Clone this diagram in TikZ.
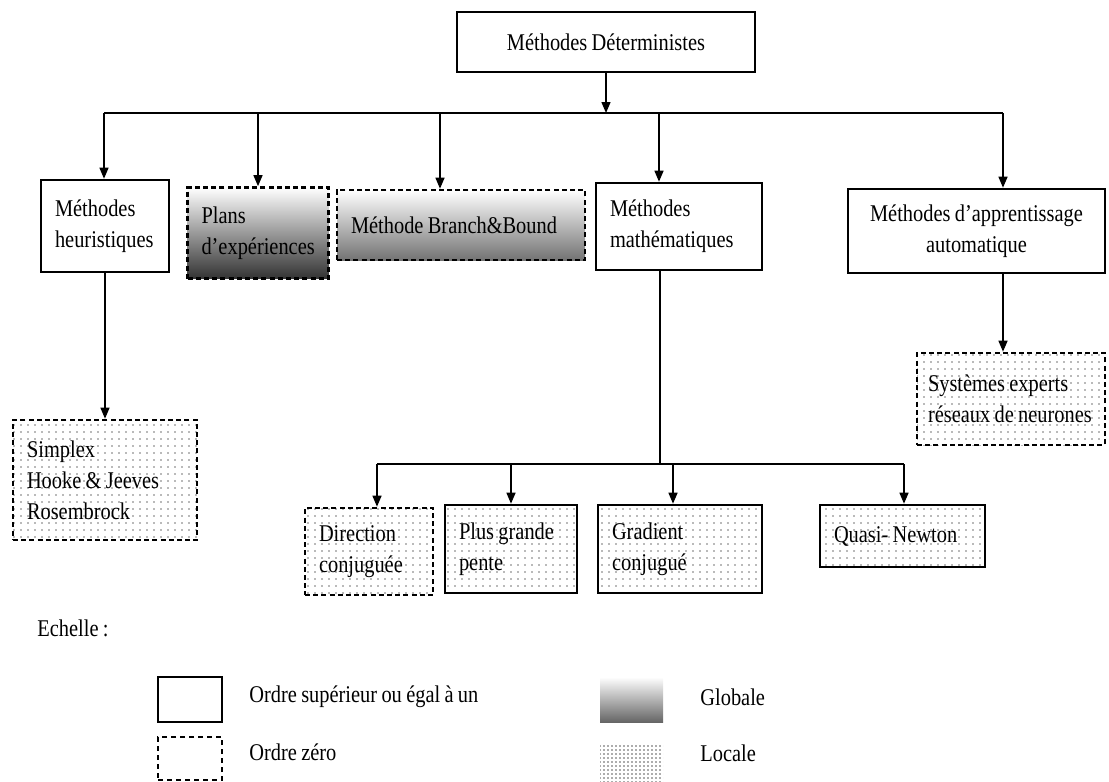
\documentclass[tikz,border=0pt]{standalone}
\usepackage{fontspec}
\setmainfont{Liberation Serif}[FakeStretch=0.85,WordSpace=0.85]
\usetikzlibrary{arrows.meta,patterns.meta,positioning}
\newdimen\px \px=0.5pt
\hyphenpenalty=10000

\begin{document}
\begin{tikzpicture}[x=0.5pt,y=-0.5pt,
    font=\fontsize{12}{15.5}\selectfont,
    solidbox/.style={draw, line width=1.3pt, inner xsep=7pt, inner ysep=0pt, align=flush left},
    zerobox/.style={draw, line width=1.3pt, dash pattern=on 2.5pt off 1.6pt, inner xsep=7pt, inner ysep=0pt, align=flush left},
    locale/.style={pattern={Dots[distance=3.5pt,radius=0.45pt]}, pattern color=black!55},
    arr/.style={-{Triangle[length=5.5pt,width=4.5pt]}, line width=0.7pt},
    bus/.style={line width=1.3pt},
    legtxt/.style={anchor=west, inner sep=0pt},
]
        \useasboundingbox (0,0) rectangle (1109,782);

        % first level
        \node[solidbox, text width=270\px, align=flush center, minimum height=60\px] (det) at (606,42) {Méthodes Déterministes};
        \node[solidbox, text width=100\px, minimum height=92\px] (heur) at (105,226) {Méthodes\\heuristiques};
        \node[zerobox, text width=113\px, minimum height=91\px, top color=white, bottom color=black!80] (plans) at (258,233) {Plans\\d’expériences};
        \node[zerobox, text width=220\px, minimum height=70\px, top color=white, bottom color=black!55] (branch) at (461,225) {Méthode~Branch\&Bound};
        \node[solidbox, text width=138\px, minimum height=87\px] (math) at (679,226.5) {Méthodes\\mathématiques};
        \node[solidbox, text width=229\px, align=flush center, minimum height=84\px] (appr) at (976.5,231) {Méthodes~d’apprentissage\\automatique};

        % second level
        \node[zerobox, locale, text width=156\px, minimum height=120\px] (simp) at (105,480) {Simplex\\Hooke~\&~Jeeves\\Rosembrock};
        \node[zerobox, locale, inner xsep=5.5pt, text width=166\px, minimum height=92\px] (sys) at (1011,399) {Systèmes~experts\\réseaux~de~neurones};
        \node[zerobox, locale, text width=100\px, minimum height=87\px] (dir) at (369,551.5) {Direction\\conjuguée};
        \node[solidbox, locale, text width=104\px, minimum height=88\px] (plus) at (511,549) {Plus~grande\\pente};
        \node[solidbox, locale, text width=136\px, minimum height=88\px] (grad) at (680,549) {Gradient\\conjugué};
        \node[solidbox, locale, text width=137\px, minimum height=62\px] (quasi) at (902.5,536) {Quasi-~Newton};

        % buses
        \coordinate (busL) at (104,113);
        \coordinate (busR) at (1003,113);
        \coordinate (bB) at (440,113);
        \coordinate (bM) at (659,113);
        \coordinate (lbL) at (377,464);
        \coordinate (lbR) at (904,464);
        \coordinate (lbM) at (660,464);
        \coordinate (lbG) at (673,464);
        \draw[bus] (busL) -- (busR);
        \draw[bus] (lbL) -- (lbR);

        \draw[arr] (det.south) -- (det.south |- busL);
        \draw[arr] (busL) -- (busL |- heur.north);
        \draw[arr] (plans.north |- busL) -- (plans.north);
        \draw[arr] (bB) -- (bB |- branch.north);
        \draw[arr] (bM) -- (bM |- math.north);
        \draw[arr] (busR) -- (busR |- appr.north);
        \draw[arr] (heur.south) -- (heur.south |- simp.north);
        \draw[arr] (appr.south -| busR) -- (busR |- sys.north);
        \draw[line width=0.9pt] (lbM |- math.south) -- (lbM);
        \draw[arr] (lbL) -- (lbL |- dir.north);
        \draw[arr] (plus.north |- lbL) -- (plus.north);
        \draw[arr] (lbG) -- (lbG |- grad.north);
        \draw[arr] (lbR) -- (lbR |- quasi.north);

        % legend
        \node[legtxt] (ech) at (37,628) {Echelle :};
        \node[draw, line width=1.1pt, minimum width=64\px, minimum height=45\px, inner sep=0pt] (lsolid) at (190,699.5) {};
        \node[legtxt] (lsolidtxt) at (249,697) {Ordre supérieur ou égal à un};
        \node[draw, line width=0.9pt, dash pattern=on 2.5pt off 2pt, minimum width=64\px, minimum height=43\px, inner sep=0pt] (lzero) at (190,758.5) {};
        \node[legtxt] (lzerotxt) at (249,752) {Ordre zéro};
        \node[minimum width=63\px, minimum height=45\px, top color=white, bottom color=black!60, inner sep=0pt] (lglob) at (631.5,699.5) {};
        \node[legtxt] (lglobtxt) at (700,697) {Globale};
        \node[pattern={Dots[distance=2pt,radius=0.45pt]}, pattern color=black!65, minimum width=63\px, minimum height=40\px, inner sep=0pt] (lloc) at (631.5,763) {};
        \node[legtxt] (lloctxt) at (700,753) {Locale};

    \end{tikzpicture}
\end{document}
